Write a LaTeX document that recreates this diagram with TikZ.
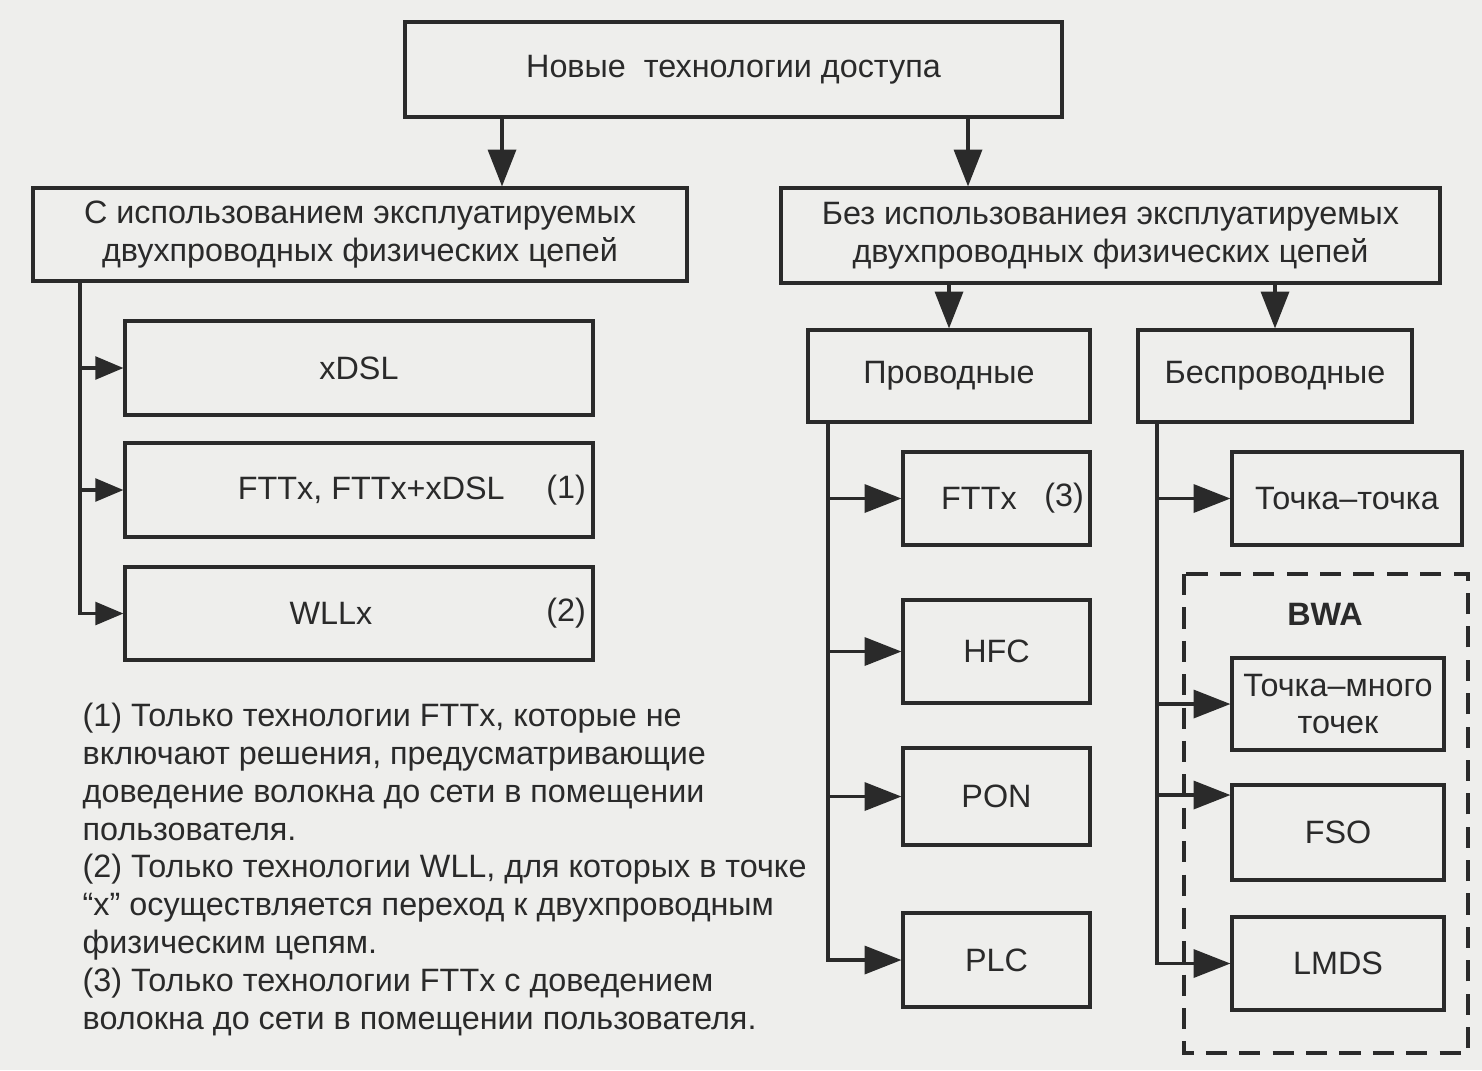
\documentclass[tikz,border=0pt]{standalone}
\usepackage{fontspec}
\setmainfont{Liberation Sans}
\usetikzlibrary{arrows.meta}
\usetikzlibrary{calc}

\definecolor{ink}{HTML}{2A2A2A}
\definecolor{paper}{HTML}{EEEEEC}

\tikzset{
  txt/.style={text=ink, font=\fontsize{9.2}{10.8}\selectfont},
  box/.style={txt, draw=ink, line width=0.9pt, align=center, inner sep=0pt},
  arr/.style={draw=ink, line width=0.9pt, -{Triangle[length=10.5pt,width=8pt]}},
  sarr/.style={draw=ink, line width=0.9pt, -{Triangle[length=8pt,width=6.5pt]}},
  bwaframe/.style={draw=ink, line width=1pt, dash pattern=on 6pt off 3.5pt},
}

\begin{document}
\begin{tikzpicture}
    %% canvas
    \fill[paper] (0,0) rectangle (14.82,-10.70);
    \useasboundingbox (0,0) rectangle (14.82,-10.70);

    %% define trunks
    \def\Lx{0.80};
    \def\Wx{8.28};
    \def\Rx{11.57};
    \coordinate (ltrunk) at (\Lx,0);
    \coordinate (wtrunk) at (\Wx,0);
    \coordinate (rtrunk) at (\Rx,0);
    \coordinate (ldown) at (5.02,0);
    \coordinate (rdown) at (9.68,0);

    %% top levels
    \node[box, minimum width=6.57cm, minimum height=0.95cm] (top) at (7.335,-0.695) {\raisebox{-1pt}{Новые\ \ технологии доступа}};
    \node[box, minimum width=6.54cm, minimum height=0.93cm] (with) at (3.60,-2.345) {С использованием эксплуатируемых\\двухпроводных физических цепей};
    \node[box, minimum width=6.59cm, minimum height=0.95cm] (without) at (11.105,-2.355) {Без использованиея эксплуатируемых\\двухпроводных физических цепей};
    \node[box, minimum width=2.82cm, minimum height=0.92cm] (wired) at (9.49,-3.76) {Проводные};
    \node[box, minimum width=2.74cm, minimum height=0.92cm] (wless) at (12.75,-3.76) {Беспроводные};

    %% left column
    \node[box, minimum width=4.68cm, minimum height=0.94cm] (xdsl) at (3.59,-3.68) {xDSL};
    \node[box, minimum width=4.68cm, minimum height=0.94cm,
          label={[txt, anchor=east, inner sep=0pt, xshift=-0.08cm]east:(1)}] (fttxa) at (3.59,-4.90) {\hspace*{7pt}FTTx, FTTx+xDSL};
    \node[box, minimum width=4.68cm, minimum height=0.93cm,
          label={[txt, anchor=east, inner sep=0pt, xshift=-0.08cm]east:(2)}] (wllx) at (3.59,-6.135) {WLLx\hspace*{16pt}};

    %% wired column
    \node[box, minimum width=1.87cm, minimum height=0.93cm,
          label={[txt, anchor=east, inner sep=0pt, xshift=-0.07cm]east:(3)}] (fttxb) at (9.965,-4.985) {FTTx\hspace*{10pt}};
    \node[box, minimum width=1.87cm, minimum height=1.03cm] (hfc) at (9.965,-6.515) {HFC};
    \node[box, minimum width=1.87cm, minimum height=0.97cm] (pon) at (9.965,-7.965) {PON};
    \node[box, minimum width=1.87cm, minimum height=0.94cm] (plc) at (9.965,-9.60) {PLC};

    %% wireless column
    \node[box, minimum width=2.30cm, minimum height=0.93cm] (ptp) at (13.47,-4.985) {Точка–точка};
    \draw[bwaframe] (11.84,-5.74) rectangle (14.68,-10.53);
    \node[txt, font=\fontsize{9.2}{10.8}\selectfont\bfseries] (bwa) at (13.25,-6.14) {BWA};
    \node[box, minimum width=2.12cm, minimum height=0.92cm] (ptmp) at (13.38,-7.04) {Точка–много\\точек};
    \node[box, minimum width=2.12cm, minimum height=0.95cm] (fso) at (13.38,-8.325) {FSO};
    \node[box, minimum width=2.12cm, minimum height=0.93cm] (lmds) at (13.38,-9.635) {LMDS};

    %% arrows between levels
    \draw[arr] (top.south -| ldown) -- (with.north -| ldown);
    \draw[arr] (top.south -| rdown) -- (without.north -| rdown);
    \draw[arr] (without.south -| wired) -- (wired);
    \draw[arr] (without.south -| wless) -- (wless);

    %% branches
    \draw[sarr] (with.south -| ltrunk) |- (xdsl.west);
    \draw[sarr] (with.south -| ltrunk) |- (fttxa.west);
    \draw[sarr] (with.south -| ltrunk) |- (wllx.west);

    \draw[arr] (wired.south -| wtrunk) |- (fttxb.west);
    \draw[arr] (wired.south -| wtrunk) |- (hfc.west);
    \draw[arr] (wired.south -| wtrunk) |- (pon.west);
    \draw[arr] (wired.south -| wtrunk) |- (plc.west);

    \draw[arr] (wless.south -| rtrunk) |- (ptp.west);
    \draw[arr] (wless.south -| rtrunk) |- (ptmp.west);
    \draw[arr] (wless.south -| rtrunk) |- ([yshift=0.375cm]fso.west);
    \draw[arr] (wless.south -| rtrunk) |- (lmds.west);

    %% footnotes
    \node[txt, align=left, anchor=north west, inner sep=0pt] (notes) at (0.82,-7.02) {(1) Только технологии FTTx, которые не\\
      включают решения, предусматривающие\\
      доведение волокна до сети в помещении\\
      пользователя.\\
      (2) Только технологии WLL, для которых в точке\\
      “x” осуществляется переход к двухпроводным\\
      физическим цепям.\\
      (3) Только технологии FTTx с доведением\\
      волокна до сети в помещении пользователя.};
\end{tikzpicture}
\end{document}
